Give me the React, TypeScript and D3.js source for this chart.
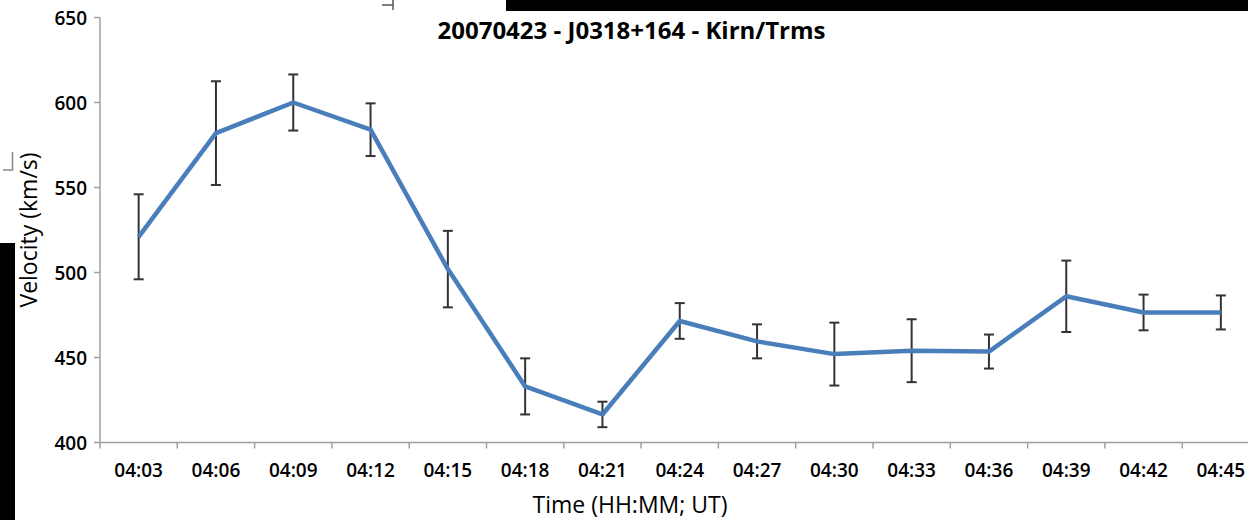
import React from "react";
import * as d3 from "d3";

const times = ["04:03", "04:06", "04:09", "04:12", "04:15", "04:18", "04:21", "04:24", "04:27", "04:30", "04:33", "04:36", "04:39", "04:42", "04:45"];
const velocity = [521, 582, 600, 584, 502, 433, 416.5, 471.5, 459.5, 452, 454, 453.5, 486, 476.5, 476.5];
const velocityError = [25, 30.5, 16.5, 15.5, 22.5, 16.5, 7.5, 10.5, 10, 18.5, 18.5, 10, 21, 10.5, 10];
const yTicks = [400, 450, 500, 550, 600, 650];

const W = 1248;
const H = 520;
const left = 100;
const top = 17.5;
const bottom = 442.5;
const band = 77.3;

const FONT = "'Open Sans', sans-serif";

export default function App() {
  const x = d3.scaleBand<string>().domain(times).range([left, left + band * times.length]).padding(0);
  const y = d3.scaleLinear().domain([400, 650]).range([bottom, top]);
  const cx = (t: string) => (x(t) as number) + x.bandwidth() / 2;

  const line = d3
    .line<number>()
    .x((_, i) => cx(times[i]))
    .y((v) => y(v));

  const axisColor = "#a0a0a0";
  const boundaries = d3.range(times.length + 1).map((i) => left + i * x.bandwidth()).filter((v) => v <= W);

  return (
    <svg
      width={W}
      height={H}
      style={{ position: "absolute", left: 0, top: 0, background: "#fff" }}
      xmlns="http://www.w3.org/2000/svg"
    >
      <rect x={0} y={0} width={W} height={H} fill="#fff" />
      {/* black scan artifacts */}
      <rect x={506} y={0} width={W - 506} height={11} fill="#000" />
      <rect x={0} y={243} width={15} height={H - 243} fill="#000" />
      <path d="M382,5 H393 M393,0 V10" stroke="#555" strokeWidth={1.5} fill="none" />
      <path d="M12.5,152 V170 H3" stroke="#888" strokeWidth={1.5} fill="none" />

      {/* title */}
      <text x={631.5} y={39} textAnchor="middle" fontFamily={FONT} fontWeight="bold" fontSize={24} fill="#000">
        20070423 - J0318+164 - Kirn/Trms
      </text>

      {/* y axis */}
      <line x1={left} x2={left} y1={top} y2={bottom} stroke={axisColor} strokeWidth={1.5} />
      {yTicks.map((t) => (
        <g key={t}>
          <line x1={left - 6} x2={left} y1={y(t)} y2={y(t)} stroke={axisColor} strokeWidth={1.5} />
          <text x={87} y={y(t) + 1} dy="0.35em" textAnchor="end" fontFamily={FONT} fontWeight={600} fontSize={19} fill="#000">
            {t}
          </text>
        </g>
      ))}

      {/* x axis */}
      <line x1={left} x2={W} y1={bottom} y2={bottom} stroke={axisColor} strokeWidth={1.5} />
      {boundaries.map((b, i) => (
        <line key={i} x1={b} x2={b} y1={bottom} y2={bottom + 6} stroke={axisColor} strokeWidth={1.5} />
      ))}
      {times.map((t) => (
        <text key={t} x={cx(t)} y={477} textAnchor="middle" fontFamily={FONT} fontWeight={600} fontSize={19} fill="#000">
          {t}
        </text>
      ))}

      {/* axis titles */}
      <text x={630} y={513} textAnchor="middle" fontFamily={FONT} fontSize={23} fill="#000">
        Time (HH:MM; UT)
      </text>
      <text
        transform={`translate(37,${(top + bottom) / 2}) rotate(-90)`}
        textAnchor="middle"
        fontFamily={FONT}
        fontWeight={500}
        fontSize={23}
        fill="#000"
      >
        Velocity (km/s)
      </text>

      {/* error bars */}
      {times.map((t, i) => {
        const xc = cx(t);
        const hi = y(velocity[i] + velocityError[i]);
        const lo = y(velocity[i] - velocityError[i]);
        return (
          <g key={t} stroke="#333" strokeWidth={2}>
            <line x1={xc} x2={xc} y1={hi} y2={lo} />
            <line x1={xc - 5} x2={xc + 5} y1={hi} y2={hi} />
            <line x1={xc - 5} x2={xc + 5} y1={lo} y2={lo} />
          </g>
        );
      })}

      {/* line */}
      <path d={line(velocity) as string} fill="none" stroke="#4a7ebb" strokeWidth={4.5} strokeLinejoin="round" />
    </svg>
  );
}
